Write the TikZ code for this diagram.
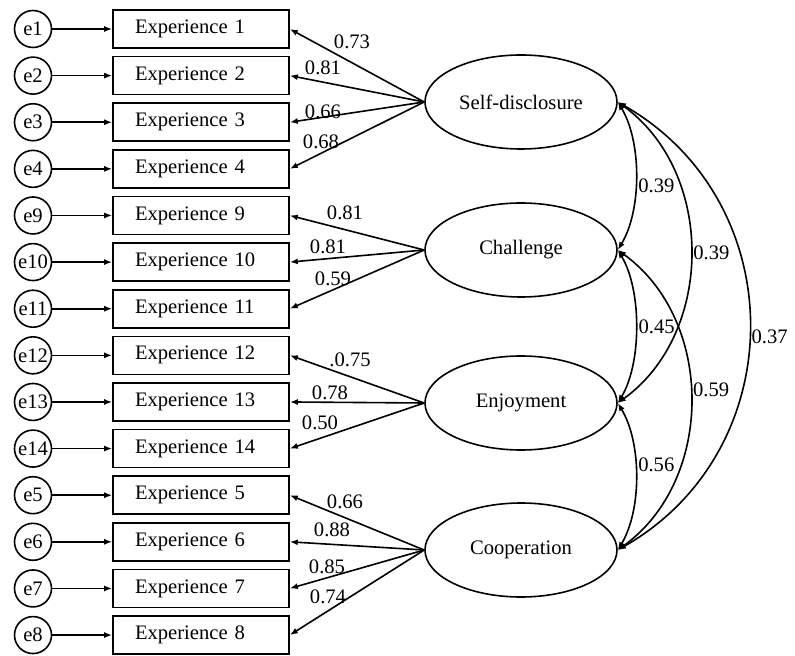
\documentclass[tikz,border=0pt]{standalone}
\usepackage{fontspec}
\setmainfont{Liberation Serif}
\usetikzlibrary{arrows.meta, shapes.geometric}

\begin{document}
\begin{tikzpicture}[x=0.5pt, y=-0.5pt, line width=0.8pt,
    every node/.style={font=\fontsize{10.3pt}{12pt}\selectfont},
    obs/.style={draw, rectangle, text width=66pt, inner xsep=11pt, inner ysep=0pt, minimum height=19pt, align=left},
    err/.style={draw, circle, inner sep=0pt, minimum size=18.5pt},
    lat/.style={draw, ellipse, inner sep=0pt, minimum width=96pt, minimum height=47pt},
    lbl/.style={inner sep=0pt},
    path/.style={-{Latex[length=4pt,width=3pt]}},
    cov/.style={{Latex[length=4pt,width=3pt]}-{Latex[length=4pt,width=3pt]}}]
    \useasboundingbox (0,0) rectangle (795,656);
    % indicators and their errors
    \foreach \n [count=\k from 0] in {1,2,3,4,9,10,11,12,13,14,5,6,7,8} {
        \node[obs] (x\n) at (201,{29+46.62*\k}) {Experience \n};
        \node[err] (e\n) at (33,{29+46.62*\k}) {e\n};
        \draw[path] (e\n) -- (x\n);
    }
    % factors
    \node[lat] (sd) at (521,102) {Self-disclosure};
    \node[lat] (ch) at (521,250) {Challenge};
    \node[lat] (en) at (521,403) {Enjoyment};
    \node[lat] (co) at (521,550) {Cooperation};
    % loadings
    \foreach \f/\i/\v/\lx/\ly in {sd/1/0.73/352/42, sd/2/0.81/323/68, sd/3/0.66/323/112, sd/4/0.68/321/142,
        ch/9/0.81/345/213, ch/10/0.81/328/247, ch/11/0.59/333/279,
        en/12/.0.75/350/360, en/13/0.78/330/393, en/14/0.50/320/423,
        co/5/0.66/345/502, co/6/0.88/332/530, co/7/0.85/327/567, co/8/0.74/328/597} {
        \draw[path] (\f.west) -- (x\i.east);
        \node[lbl] at (\lx,\ly) {\v};
    }
    % correlations
    \draw[cov] (sd.east) .. controls +(24,40) and +(24,-40) .. node[pos=.56, right, inner sep=1pt] {0.39} (ch.east);
    \draw[cov] (ch.east) .. controls +(24,40) and +(24,-40) .. node[pos=.5, right, inner sep=1pt] {0.45} (en.east);
    \draw[cov] (en.east) .. controls +(24,40) and +(24,-40) .. node[pos=.43, right, inner sep=1pt] {0.56} (co.east);
    \draw[cov] (sd.east) .. controls +(97,70) and +(97,-70) .. node[pos=.5, right, inner sep=1pt] {0.39} (en.east);
    \draw[cov] (ch.east) .. controls +(97,70) and +(97,-70) .. node[pos=.47, right, inner sep=1pt] {0.59} (co.east);
    \draw[cov] (sd.east) .. controls +(175,100) and +(175,-100) .. node[pos=.52, right, inner sep=1pt] {0.37} (co.east);
\end{tikzpicture}
\end{document}
